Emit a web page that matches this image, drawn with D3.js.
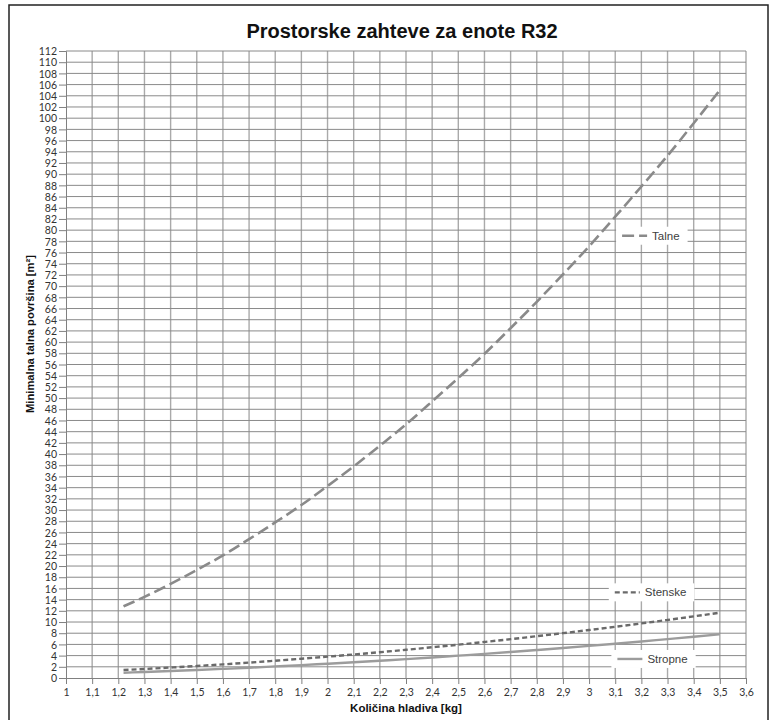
<!DOCTYPE html>
<html lang="sl">
<head>
<meta charset="UTF-8">
<title>Prostorske zahteve za enote R32</title>
<script src="https://d3js.org/d3.v7.min.js"></script>
<style>
  body { margin: 0; background: #fff; }
  svg { display: block; }
  .tick text { font-family: Lato, "Open Sans", sans-serif; font-size: 10.5px; fill: #333; }
</style>
</head>
<body>
<svg width="775" height="720"></svg>
<script>
// data
const kolicina = [1.22, 1.3, 1.4, 1.5, 1.6, 1.7, 1.8, 1.9, 2.0, 2.1, 2.2, 2.3, 2.4,
                  2.5, 2.6, 2.7, 2.8, 2.9, 3.0, 3.1, 3.2, 3.3, 3.4, 3.5];
const talne = [12.8, 14.5, 16.8, 19.3, 21.9, 24.8, 27.8, 30.9, 34.3, 37.8, 41.5, 45.3, 49.4,
               53.6, 57.9, 62.5, 67.2, 72.1, 77.1, 82.4, 87.8, 93.3, 99.1, 105.0];
const stenske = [1.42, 1.61, 1.87, 2.14, 2.43, 2.75, 3.09, 3.44, 3.81, 4.2, 4.61, 5.04, 5.49,
                 5.95, 6.44, 6.94, 7.47, 8.01, 8.57, 9.15, 9.75, 10.37, 11.01, 11.67];
const stropne = [0.95, 1.08, 1.25, 1.43, 1.63, 1.84, 2.07, 2.3, 2.55, 2.81, 3.09, 3.37, 3.67,
                 3.99, 4.31, 4.65, 5.0, 5.36, 5.74, 6.13, 6.53, 6.95, 7.37, 7.81];
const xTicks = d3.range(10, 37).map(d => d / 10);
const yTicks = d3.range(0, 113, 2);

const svg = d3.select("svg");
const margin = { left: 66, right: 29, top: 51, bottom: 42 };
const width = 775, height = 720;

// outer frame
svg.append("rect")
    .attr("x", 9).attr("y", 5)
    .attr("width", 759).attr("height", 730)
    .attr("fill", "#fff").attr("stroke", "#222").attr("stroke-width", 1.5);

const x = d3.scaleLinear().domain([1, 3.6]).range([margin.left, width - margin.right]);
const y = d3.scaleLinear().domain([0, 112]).range([height - margin.bottom, margin.top]);

// grid
svg.append("g")
    .selectAll("line")
    .data(xTicks.slice(1))
    .join("line")
    .attr("x1", d => x(d)).attr("x2", d => x(d))
    .attr("y1", y(0)).attr("y2", y(112))
    .attr("stroke", "#aaaaaa").attr("stroke-width", 1.4);

svg.append("g")
    .selectAll("line")
    .data(yTicks.slice(1))
    .join("line")
    .attr("x1", x(1)).attr("x2", x(3.6))
    .attr("y1", d => y(d)).attr("y2", d => y(d))
    .attr("stroke", "#8a8a8a").attr("stroke-width", 1);

// axes
const fmt = d => String(d).replace(".", ",");
const xAxis = svg.append("g")
    .attr("transform", `translate(0,${y(0)})`)
    .call(d3.axisBottom(x).tickValues(xTicks).tickFormat(fmt).tickSize(6).tickPadding(5));
const yAxis = svg.append("g")
    .attr("transform", `translate(${x(1)},0)`)
    .call(d3.axisLeft(y).tickValues(yTicks).tickSize(7).tickPadding(2));
[xAxis, yAxis].forEach(a => {
    a.select(".domain").attr("stroke", "#808080");
    a.selectAll(".tick line").attr("stroke", "#808080");
});
yAxis.selectAll(".tick text").attr("dy", "0.35em");

// series
const series = [
    { name: "Talne", values: talne, color: "#8a8a8a", dash: "12,5", width: 2.6,
      label: [3.218, 79] },
    { name: "Stenske", values: stenske, color: "#6a6a6a", dash: "5,3", width: 2.4,
      label: [3.19, 15.3] },
    { name: "Stropne", values: stropne, color: "#9c9c9c", dash: null, width: 2.4,
      label: [3.2, 3.4] }
];

const line = d3.line()
    .x((d, i) => x(kolicina[i]))
    .y(d => y(d))
    .curve(d3.curveMonotoneX);

series.forEach(s => {
    svg.append("path")
        .datum(s.values)
        .attr("fill", "none")
        .attr("stroke", s.color)
        .attr("stroke-width", s.width)
        .attr("stroke-dasharray", s.dash)
        .attr("d", line);
});

// inline labels
series.forEach(s => {
    const g = svg.append("g")
        .attr("transform", `translate(${x(s.label[0])},${y(s.label[1])})`);
    const t = g.append("text")
        .attr("x", 6).attr("y", 0).attr("dy", "0.35em")
        .attr("font-family", "'Liberation Sans', Arial, sans-serif")
        .attr("font-size", 11.5).attr("fill", "#404040")
        .text(s.name);
    const tw = t.node().getComputedTextLength();
    g.insert("rect", "text")
        .attr("x", -30).attr("y", -9)
        .attr("width", tw + 44).attr("height", 18)
        .attr("fill", "#fff");
    g.insert("line", "text")
        .attr("x1", -24).attr("x2", 1)
        .attr("y1", 0).attr("y2", 0)
        .attr("stroke", s.color).attr("stroke-width", s.width)
        .attr("stroke-dasharray", s.dash);
});

// titles
svg.append("text")
    .attr("x", 402).attr("y", 38)
    .attr("text-anchor", "middle")
    .attr("font-family", "'Liberation Sans', Arial, sans-serif")
    .attr("font-weight", "bold").attr("font-size", 20)
    .attr("fill", "#111")
    .text("Prostorske zahteve za enote R32");

svg.append("text")
    .attr("x", (x(1) + x(3.6)) / 2).attr("y", 712)
    .attr("text-anchor", "middle")
    .attr("font-family", "'Liberation Sans', Arial, sans-serif")
    .attr("font-weight", "bold").attr("font-size", 11.5)
    .attr("fill", "#111")
    .text("Količina hladiva [kg]");

svg.append("text")
    .attr("transform", "translate(34,334) rotate(-90)")
    .attr("text-anchor", "middle")
    .attr("font-family", "'Liberation Sans', Arial, sans-serif")
    .attr("font-weight", "bold").attr("font-size", 11.2)
    .attr("fill", "#111")
    .text("Minimalna talna površina [m²]");
</script>
</body>
</html>
